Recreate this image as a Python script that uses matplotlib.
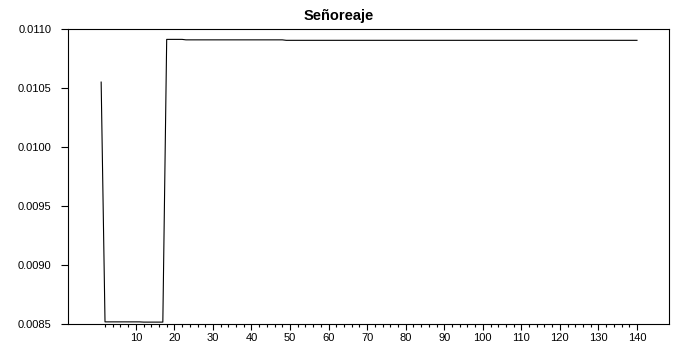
import numpy as np
import matplotlib
matplotlib.use("Agg")
import matplotlib.pyplot as plt

plt.rcParams['font.family'] = ['Liberation Sans', 'DejaVu Sans']

levels = [0.01055, 0.008518, 0.008516, 0.010912, 0.010908, 0.010904]
counts = [1, 10, 6, 5, 26, 92]

obs = np.arange(1, sum(counts) + 1)
senoreaje = np.repeat(levels, counts)

fig = plt.figure(figsize=(6.78, 3.46), dpi=100)
ax = fig.add_axes([0.1003, 0.0636, 0.8864, 0.8526])

ax.plot(obs, senoreaje, color='black', lw=0.8)

ax.set_xlim(-7.6, 148.3)
ax.set_ylim(0.0085, 0.0110)

ax.set_xticks(np.arange(10, 141, 10))
ax.set_xticks(np.arange(2, 141, 2), minor=True)
ax.set_yticks([0.0085, 0.0090, 0.0095, 0.0100, 0.0105, 0.0110])
ax.yaxis.set_major_formatter(matplotlib.ticker.FormatStrFormatter('%.4f'))

ax.tick_params(axis='y', which='major', length=5, width=0.8, pad=7, labelsize=8)
ax.tick_params(axis='x', which='major', length=4.5, width=0.8, pad=2, labelsize=8)
ax.tick_params(axis='x', which='minor', length=2.5, width=0.8)

for s in ax.spines.values():
    s.set_linewidth(0.8)

# title is centred on the figure, not on the axes
fig.text(0.5, 1 - 16 / 346, 'Señoreaje', fontsize=10.5, fontweight='bold',
         ha='center', va='center')

fig.savefig('out.png', dpi=100)
